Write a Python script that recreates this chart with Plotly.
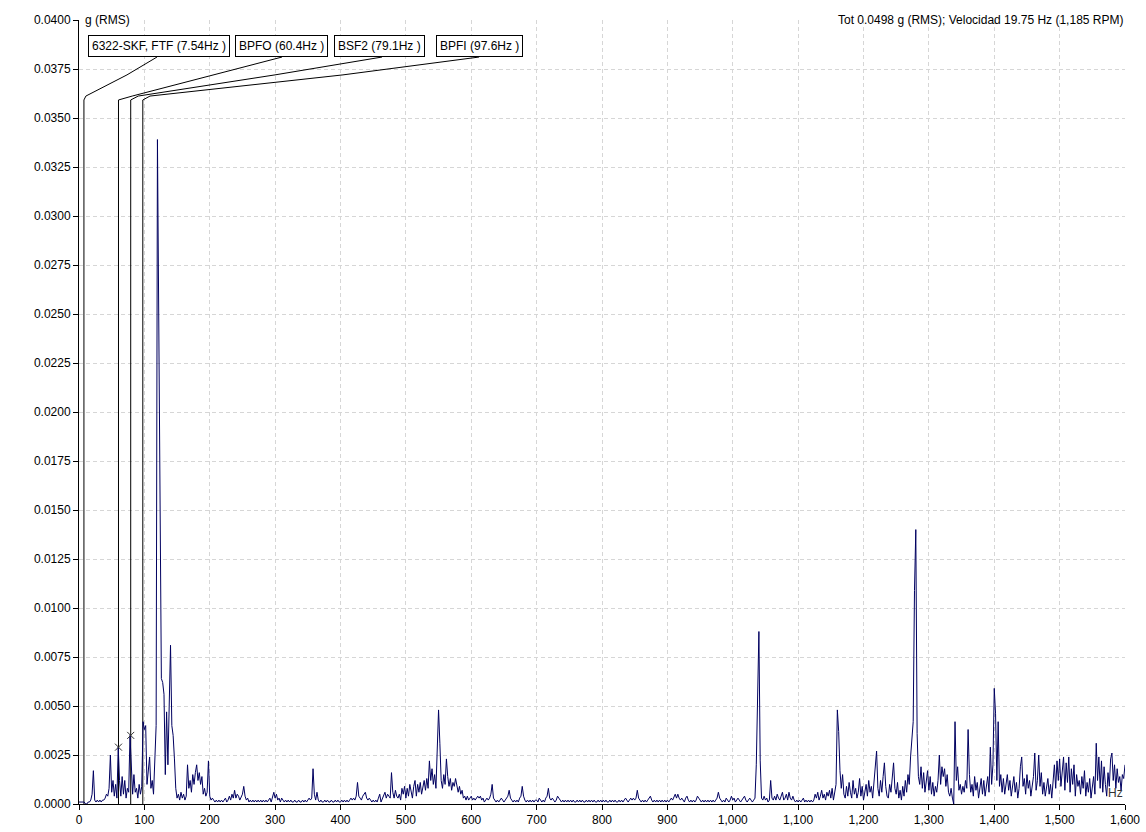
import numpy as np
import plotly.graph_objects as go

# ---------------- data ----------------
freq_step_hz = 2
# spectrum amplitudes in units of 1e-4 g (RMS), 0..1600 Hz every 2 Hz
amp_0_98 = [1,1,1,1,1, 0,0,1,1,2, 5,17,2,1,2, 1,2,1,2,2, 3,5,4,8,25, 6,12,4,10,3, 29,12,4,14,5, 12,3,8,6,35, 14,5,15,6,8, 3,10,5,9,42]
amp_100_198 = [38,40,10,16,24, 8,12,5,20,40, 339,237,110,64,62, 56,15,47,20,55, 81,40,35,23,8, 3,5,2,6,3, 5,2,4,20,8, 12,6,15,10,16, 20,12,16,10,14, 5,8,4,6,22]
amp_200_298 = [4,2,3,2,1, 2,1,2,1,2, 1,2,3,1,2, 4,2,5,3,7, 3,5,4,2,4, 5,9,4,2,3, 1,2,1,2,1, 2,1,2,1,2, 1,2,1,2,1, 2,3,1,3,6]
amp_300_398 = [3,5,2,3,1, 3,2,1,2,1, 2,1,2,1,1, 2,1,1,2,1, 1,2,1,2,1, 2,3,2,3,18, 5,2,6,2,1, 2,1,1,2,1, 2,1,1,2,1, 1,2,1,2,1]
amp_400_498 = [1,2,1,2,1, 2,1,2,3,2, 3,2,4,11,4, 3,2,4,5,6, 3,2,3,2,1, 2,1,2,1,3, 5,1,3,4,6, 3,5,4,3,16, 6,3,7,4,3, 5,2,8,5,9]
amp_500_598 = [3,8,4,10,6, 3,9,12,4,10, 6,11,5,9,12, 7,13,8,22,12, 18,10,15,8,33, 48,31,12,8,15, 10,23,14,9,13, 7,11,9,13,10, 6,9,5,7,3, 4,2,4,2,3]
amp_600_698 = [4,2,3,2,3, 4,3,4,2,3, 1,2,3,2,3, 5,10,3,2,1, 2,1,2,3,2, 1,2,3,4,7, 3,2,1,2,1, 2,1,3,4,9, 4,2,1,2,1, 2,1,2,1,2]
amp_700_798 = [2,1,3,2,1, 2,1,3,4,8, 3,2,3,2,1, 2,4,3,2,1, 2,1,2,1,2, 1,2,1,2,1, 1,2,1,2,1, 2,1,1,2,1, 2,1,2,1,2, 1,1,2,1,2]
amp_800_898 = [1,2,1,2,1, 1,2,1,2,1, 2,1,1,2,1, 2,1,2,3,2, 1,2,3,2,3, 2,3,7,3,2, 1,2,1,2,1, 2,3,4,2,1, 2,1,2,1,2, 1,2,1,2,1]
amp_900_998 = [2,1,2,3,2, 4,5,3,5,3, 2,3,2,1,3, 4,2,1,2,1, 2,1,2,4,3, 2,1,2,1,2, 1,2,1,2,1, 2,1,2,3,6, 3,2,1,2,1, 3,2,1,2,4]
amp_1000_1098 = [2,3,1,2,3, 2,1,2,3,4, 2,1,2,3,2, 1,2,3,20,65, 88,22,3,2,4, 2,3,1,2,12, 3,2,4,2,5, 3,2,4,6,2, 3,5,2,6,3, 2,4,2,1,2]
amp_1100_1198 = [1,2,1,2,3, 1,2,1,2,1, 2,1,2,5,3, 6,2,4,7,3, 5,2,6,4,7, 3,8,2,6,10, 48,37,17,8,15, 5,3,9,4,11, 6,3,12,5,8, 3,6,13,4,9]
amp_1200_1298 = [2,7,10,4,12, 6,9,3,11,16, 27,8,4,12,6, 14,21,9,4,3, 10,6,13,21,8, 5,11,3,7,2, 9,4,12,6,15, 10,24,31,42,109, 140,36,14,10,19, 8,16,6,13,17]
amp_1300_1398 = [7,14,5,11,4, 9,6,12,25,10, 19,14,18,9,15, 6,4,8,3,0, 42,12,19,7,10, 5,9,6,12,8, 38,15,6,10,4, 14,7,11,3,9, 13,5,12,4,8, 14,6,29,10,20]
amp_1400_1498 = [59,46,12,42,9, 15,6,13,5,10, 15,7,12,4,9, 14,6,11,3,8, 19,24,9,13,5, 15,8,12,4,10, 14,26,7,12,25, 9,16,5,11,4, 9,13,5,10,3, 14,20,8,22,12]
amp_1500_1600 = [23,9,19,24,7, 21,11,24,6,18, 10,20,4,15,9, 12,5,14,8,17, 4,11,6,13,3, 9,14,5,31,12, 24,8,22,6,19, 10,4,16,9,23, 26,12,20,8,18, 11,14,7,15,13, 20]

fault_names = ["6322-SKF, FTF", "BPFO", "BSF2", "BPFI"]
fault_freqs = [7.54, 60.4, 79.1, 97.6]
marker_freqs = [60.4, 79.1]
marker_amps = [0.0029, 0.0035]

header_text = "Tot 0.0498 g (RMS); Velocidad 19.75 Hz (1,185 RPM)"
y_unit = "g (RMS)"
x_unit = "Hz"

# ---------------- build ----------------
amp_e4 = (amp_0_98 + amp_100_198 + amp_200_298 + amp_300_398 + amp_400_498 +
          amp_500_598 + amp_600_698 + amp_700_798 + amp_800_898 + amp_900_998 +
          amp_1000_1098 + amp_1100_1198 + amp_1200_1298 + amp_1300_1398 +
          amp_1400_1498 + amp_1500_1600)
amp = np.array(amp_e4, dtype=float) * 1e-4
freq = np.arange(len(amp)) * freq_step_hz

FONT = "Liberation Sans, Arial, sans-serif"
fig = go.Figure()

# leader lines geometry (layout only)
top_y = 0.03592
nudge_y = 0.03612
kink_y = 0.0372
attach_y = 0.03811
nudge_hz = [3, 21, 11.5, 11]
kink_hz = [73.4, 206.5, 299.8, 403.8]
attach_hz = [119.3, 310.5, 463.5, 612]
label_hz = [122.4, 309, 460.4, 612.6]
label_y = 0.03867

for f, nh, kh, ah in zip(fault_freqs, nudge_hz, kink_hz, attach_hz):
    fig.add_trace(go.Scatter(
        x=[f, f, f + nh, kh, ah], y=[0, top_y, nudge_y, kink_y, attach_y],
        mode="lines", line=dict(color="black", width=1),
        hoverinfo="skip", showlegend=False, cliponaxis=False))

fig.add_trace(go.Scatter(
    x=freq, y=amp, mode="lines",
    line=dict(color="#000060", width=1),
    showlegend=False))

fig.add_trace(go.Scatter(
    x=marker_freqs, y=marker_amps, mode="markers",
    marker=dict(symbol="x-thin", size=7, line=dict(color="#333333", width=1)),
    showlegend=False))

for name, f, lx in zip(fault_names, fault_freqs, label_hz):
    fig.add_annotation(
        x=lx, y=label_y, xref="x", yref="y",
        text=f"{name} ({f}Hz )", showarrow=False,
        font=dict(family=FONT, size=12, color="black"),
        bgcolor="white", bordercolor="black", borderwidth=1, borderpad=3,
        xanchor="center", yanchor="middle")

fig.add_annotation(x=0, y=1, xref="paper", yref="paper", xshift=4,
                   text=y_unit, showarrow=False, xanchor="left", yanchor="middle",
                   font=dict(family=FONT, size=12, color="black"))
fig.add_annotation(x=1, y=1, xref="paper", yref="paper",
                   text=header_text, showarrow=False, xanchor="right", yanchor="middle",
                   font=dict(family=FONT, size=12, color="black"))
fig.add_annotation(x=1, y=0, xref="paper", yref="paper", yshift=2,
                   text=x_unit, showarrow=False, xanchor="right", yanchor="bottom",
                   font=dict(family=FONT, size=12, color="#333333"))

axis_common = dict(
    showline=True, linecolor="black", linewidth=1,
    ticks="outside", ticklen=5, tickcolor="black",
    showgrid=True, gridcolor="#d6d6d6", griddash="4px,3px", gridwidth=1,
    zeroline=False,
    tickfont=dict(family=FONT, size=12, color="black"),
)

fig.update_layout(
    width=1146, height=832,
    margin=dict(l=79, r=21, t=20, b=28, autoexpand=False),
    separators=".,",
    paper_bgcolor="white", plot_bgcolor="white",
    xaxis=dict(range=[0, 1600], tick0=0, dtick=100, tickformat=",d", **axis_common),
    yaxis=dict(range=[0, 0.04], tick0=0, dtick=0.0025, tickformat=".4f", **axis_common),
    showlegend=False,
)

# remove the page's default body margin so the figure fills the window exactly
fig.write_html(
    "out.html",
    config={"displayModeBar": False},
    post_script="document.body.style.margin='0';document.body.style.overflow='hidden';",
)
